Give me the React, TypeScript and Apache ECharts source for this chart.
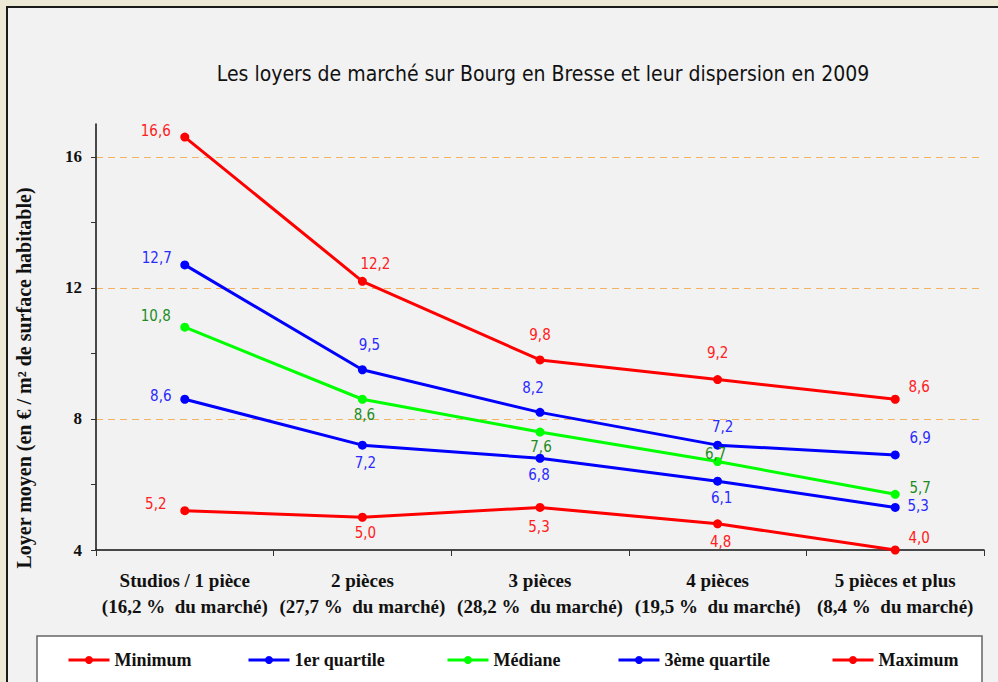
import React, { useEffect, useRef } from "react";
import * as echarts from "echarts";

const categories = [
  "Studios / 1 pièce\n(16,2 %  du marché)",
  "2 pièces\n(27,7 %  du marché)",
  "3 pièces\n(28,2 %  du marché)",
  "4 pièces\n(19,5 %  du marché)",
  "5 pièces et plus\n(8,4 %  du marché)",
];

const minimum = [5.2, 5.0, 5.3, 4.8, 4.0];
const premierQuartile = [8.6, 7.2, 6.8, 6.1, 5.3];
const mediane = [10.8, 8.6, 7.6, 6.7, 5.7];
const troisiemeQuartile = [12.7, 9.5, 8.2, 7.2, 6.9];
const maximum = [16.6, 12.2, 9.8, 9.2, 8.6];

const yTickValues = [4, 6, 8, 10, 12, 14, 16];
const yLabelValues = [4, 8, 12, 16];

// label offsets (style only)
const offMin = [[-29, -7], [3, 16], [-1, 20], [3, 18], [24, -12]];
const offQ1 = [[-24, -3], [3, 18], [-1, 17], [4, 17], [23, -1]];
const offMed = [[-29, -11], [2, 16], [1, 15], [-2, -8], [25, -6]];
const offQ3 = [[-28, -7], [7, -25], [-7, -24], [5, -18], [25, -17]];
const offMax = [[-29, -6], [13, -17], [0, -25], [0, -27], [24, -12]];

const NARROW = '"Liberation Sans Narrow", "DejaVu Sans Condensed", "Roboto Condensed", sans-serif';
const SERIF = '"Liberation Serif", "DejaVu Serif", serif';

function mkSeries(name: string, values: number[], offs: number[][], color: string, labelColor: string) {
  return {
    name,
    type: "line",
    data: values.map((v, i) => ({ value: v, label: { offset: offs[i] } })),
    symbol: "circle",
    symbolSize: 9,
    lineStyle: { color, width: 3 },
    itemStyle: { color },
    label: {
      show: true,
      position: "inside",
      align: "center",
      verticalAlign: "middle",
      color: labelColor,
      fontFamily: NARROW,
      fontSize: 15,
      formatter: (p: any) => Number(p.value).toFixed(1).replace(".", ","),
    },
  };
}

export default function App() {
  const ref = useRef<HTMLDivElement>(null);
  useEffect(() => {
    document.body.style.margin = "0";
    if (!ref.current) return;
    const chart = echarts.init(ref.current, null, { renderer: "svg" });
    const legendPos = [
      { name: "Minimum", left: 67 },
      { name: "1er quartile", left: 247 },
      { name: "Médiane", left: 446 },
      { name: "3ème quartile", left: 617 },
      { name: "Maximum", left: 831 },
    ];
    chart.setOption({
      animation: false,
      backgroundColor: "#ECE9D6",
      graphic: [
        {
          type: "rect",
          z: -10,
          shape: { x: 7, y: 7, width: 1000, height: 700 },
          style: { fill: "#F2F2F2", stroke: "#1a1a1a", lineWidth: 2 },
        },
        {
          type: "rect",
          z: -9,
          shape: { x: 37, y: 636, width: 945, height: 80 },
          style: { fill: "#FFFFFF", stroke: "#666666", lineWidth: 1.5 },
        },
        {
          type: "text",
          x: 543,
          y: 74,
          style: {
            text: "Les loyers de marché sur Bourg en Bresse et leur dispersion en 2009",
            fontFamily: NARROW,
            fontSize: 21,
            fill: "#111",
            align: "center",
            verticalAlign: "middle",
          },
        },
        {
          type: "text",
          x: 24,
          y: 378,
          rotation: Math.PI / 2,
          style: {
            text: "Loyer moyen (en € / m² de surface habitable)",
            fontFamily: SERIF,
            fontWeight: "bold",
            fontSize: 20,
            fill: "#111",
            align: "center",
            verticalAlign: "middle",
          },
        },
      ],
      legend: legendPos.map((l) => ({
        data: [l.name],
        left: l.left,
        top: 651,
        itemWidth: 41,
        itemHeight: 10,
        itemGap: 5,
        lineStyle: { width: 3 },
        textStyle: { fontFamily: SERIF, fontWeight: "bold", fontSize: 18, color: "#111" },
        padding: 0,
      })),
      grid: { left: 96, right: 14, top: 124, bottom: 132 },
      xAxis: {
        type: "category",
        data: categories,
        boundaryGap: true,
        axisLine: { lineStyle: { color: "#111", width: 1.5 } },
        axisTick: { show: true, length: 6, lineStyle: { color: "#333" } },
        axisLabel: {
          interval: 0,
          fontFamily: SERIF,
          fontWeight: "bold",
          fontSize: 19,
          color: "#111",
          lineHeight: 26,
          margin: 17,
        },
      },
      yAxis: [
        {
          type: "value",
          min: 4,
          max: 17,
          interval: 2,
          axisLine: { show: true, lineStyle: { color: "#111", width: 1.5 } },
          axisTick: { show: true, length: 5, customValues: yTickValues, lineStyle: { color: "#333" } },
          axisLabel: {
            customValues: yLabelValues,
            fontFamily: SERIF,
            fontWeight: "bold",
            fontSize: 17,
            color: "#111",
            margin: 14,
          },
          splitLine: { show: false },
        },
        {
          type: "value",
          min: 4,
          max: 17,
          interval: 4,
          position: "left",
          axisLine: { show: false },
          axisTick: { show: false },
          axisLabel: { show: false },
          splitLine: {
            show: true,
            showMinLine: false,
            showMaxLine: false,
            lineStyle: { color: "#F2B25E", type: [7, 5], width: 1.2 },
          },
        },
      ],
      series: [
        mkSeries("Minimum", minimum, offMin, "#FF0000", "#FF2020"),
        mkSeries("1er quartile", premierQuartile, offQ1, "#0000FF", "#2A2AFF"),
        mkSeries("Médiane", mediane, offMed, "#00FF00", "#1E8C1E"),
        mkSeries("3ème quartile", troisiemeQuartile, offQ3, "#0000FF", "#2A2AFF"),
        mkSeries("Maximum", maximum, offMax, "#FF0000", "#FF2020"),
      ],
    });
    return () => chart.dispose();
  }, []);
  return <div ref={ref} style={{ width: 998, height: 682 }} />;
}
